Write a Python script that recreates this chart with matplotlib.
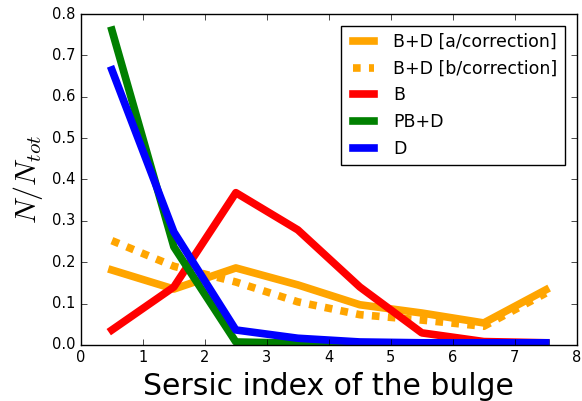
import matplotlib
matplotlib.use('Agg')
import matplotlib.pyplot as plt

plt.style.use('classic')
plt.rcParams['mathtext.fontset'] = 'cm'
plt.rcParams['font.family'] = 'DejaVu Sans'

# bin centres of the Sersic index histogram
n_sersic = [0.5, 1.5, 2.5, 3.5, 4.5, 5.5, 6.5, 7.5]

bd_a = [0.181, 0.135, 0.186, 0.145, 0.097, 0.077, 0.053, 0.133]
bd_b = [0.252, 0.190, 0.152, 0.104, 0.073, 0.060, 0.045, 0.125]
b_only = [0.036, 0.140, 0.368, 0.278, 0.140, 0.029, 0.008, 0.005]
pb_d = [0.761, 0.237, 0.007, 0.004, 0.002, 0.002, 0.002, 0.002]
d_only = [0.665, 0.273, 0.036, 0.016, 0.007, 0.005, 0.005, 0.005]

fig = plt.figure(figsize=(5.82, 4.01), dpi=100)
fig.patch.set_facecolor('white')
ax = fig.add_axes([0.139, 0.140, 0.852, 0.825])

lw = 5.5
ax.plot(n_sersic, bd_a, color='orange', lw=lw, label='B+D [a/correction]')
ax.plot(n_sersic, bd_b, color='orange', lw=lw, dashes=[5.5, 6],
        dash_capstyle='butt', label='B+D [b/correction]')
ax.plot(n_sersic, b_only, color='red', lw=lw, label='B')
ax.plot(n_sersic, pb_d, color='green', lw=lw, label='PB+D')
ax.plot(n_sersic, d_only, color='blue', lw=lw, label='D')

ax.set_xlim(0, 8)
ax.set_ylim(0, 0.8)
ax.tick_params(labelsize=10.5)
ax.set_xlabel('Sersic index of the bulge', fontsize=21.5)
ax.set_ylabel(r'$N/N_{tot}$', fontsize=21.5)
ax.legend(loc='upper right', fontsize=12.5, handlelength=1.8,
          labelspacing=0.5, borderaxespad=0.7)

plt.savefig('out.png', dpi=100, facecolor='white')
